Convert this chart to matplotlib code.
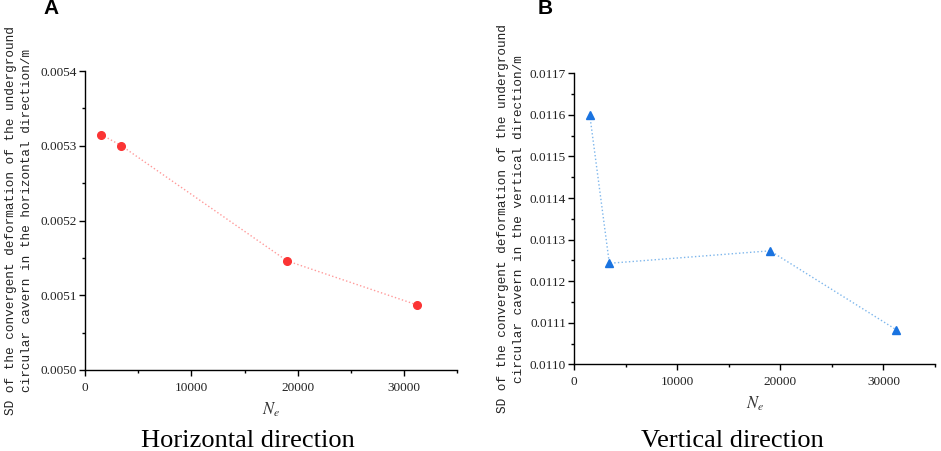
import matplotlib
matplotlib.use("Agg")
import matplotlib.pyplot as plt
from matplotlib.ticker import MultipleLocator, FormatStrFormatter

plt.rcParams["mathtext.fontset"] = "stix"

# Data
ne = [1500, 3400, 19000, 31250]
sd_horizontal = [0.005315, 0.005300, 0.005146, 0.005087]
sd_vertical = [0.011600, 0.011243, 0.011273, 0.011083]

panel_letters = ["A", "B"]
captions = ["Horizontal direction", "Vertical direction"]
ylabels = [
    "SD of the convergent deformation of the underground\n"
    "circular cavern in the horizontal direction/m",
    "SD of the convergent deformation of the underground\n"
    "circular cavern in the vertical direction/m",
]

MONO = "Liberation Mono"
SERIF = "Liberation Serif"

fig = plt.figure(figsize=(9.41, 4.51), dpi=100)

# axes boxes in figure fractions (left, bottom, width, height)
W, H = 941.0, 451.0
boxes = [
    (85.3 / W, 1 - 370 / H, (457 - 85.3) / W, (370 - 71) / H),
    (574.3 / W, 1 - 364.3 / H, (935 - 574.3) / W, (364.3 - 73.3) / H),
]
label_x = [-0.141, -0.137]
letter_x = [43 / W, 538 / W]
caption_x = [248 / W, 732.5 / W]

series = [
    dict(y=sd_horizontal, marker="o", mc="#fb3434", lc="#ff9a9a", ms=5.5,
         ylim=(0.0050, 0.0054), major=0.0001, minor=0.00005),
    dict(y=sd_vertical, marker="^", mc="#1a73e0", lc="#7db6ec", ms=6.3,
         ylim=(0.0110, 0.0117), major=0.0001, minor=0.00005),
]

for i, (box, s) in enumerate(zip(boxes, series)):
    ax = fig.add_axes(box)
    ax.plot(ne, s["y"], linestyle=":", color=s["lc"], linewidth=1.0, zorder=2)
    ax.plot(ne, s["y"], linestyle="none", marker=s["marker"],
            color=s["mc"], markersize=s["ms"], zorder=3)

    ax.set_xlim(0, 35000)
    ax.set_ylim(*s["ylim"])
    ax.xaxis.set_major_locator(MultipleLocator(10000))
    ax.xaxis.set_minor_locator(MultipleLocator(5000))
    ax.yaxis.set_major_locator(MultipleLocator(s["major"]))
    ax.yaxis.set_minor_locator(MultipleLocator(s["minor"]))
    ax.yaxis.set_major_formatter(FormatStrFormatter("%.4f"))

    for side in ["top", "right"]:
        ax.spines[side].set_visible(False)
    for side in ["left", "bottom"]:
        ax.spines[side].set_linewidth(1.0)

    ax.tick_params(which="major", direction="out", length=4.5, width=1,
                   labelsize=9.5, labelcolor="#222222")
    ax.tick_params(which="minor", direction="out", length=2.2, width=1)
    ax.tick_params(axis="y", which="major", pad=1.5)
    ax.tick_params(axis="x", which="major", pad=4)
    for lab in ax.get_xticklabels() + ax.get_yticklabels():
        lab.set_fontfamily(SERIF)

    ax.set_xlabel(r"$N_e$", fontsize=12, color="#333333", labelpad=5)
    ax.set_ylabel(ylabels[i], fontsize=9.2, family=MONO, color="#222222",
                  linespacing=1.45)
    ax.yaxis.set_label_coords(label_x[i], 0.5)

    # panel letter and caption
    fig.text(letter_x[i], 1 - 8 / H, panel_letters[i], fontsize=15,
             fontweight="bold", family="Liberation Sans", ha="left",
             va="center")
    fig.text(caption_x[i], 1 - 441 / H, captions[i], fontsize=19,
             family=SERIF, ha="center", va="center")

fig.savefig("out.png", dpi=100)
